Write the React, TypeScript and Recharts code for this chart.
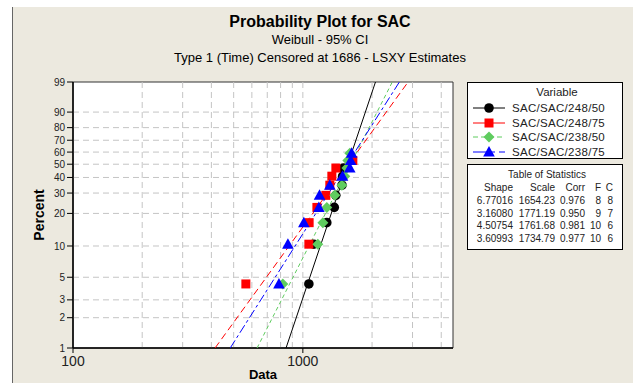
import React from "react";
import {
	ComposedChart,
	Scatter,
	XAxis,
	YAxis,
	ReferenceLine,
	ReferenceArea,
	CartesianGrid,
	Label,
} from "recharts";

// median-rank percent at which each failure is plotted
const percentRanks = [4.3, 10.4, 16.5, 22.6, 28.7, 34.8, 40.9, 47.0, 53.0, 59.1];

// failure times
const sac248_50 = [1062, 1116, 1271, 1370, 1391, 1480, 1490, 1500];
const sac248_75 = [565, 1062, 1065, 1151, 1259, 1310, 1337, 1392, 1650];
const sac238_50 = [818, 1162, 1222, 1271, 1377, 1478, 1522, 1554, 1569, 1601];
const sac238_75 = [787, 861, 1010, 1174, 1182, 1310, 1488, 1600, 1615, 1630];

// fitted lines: data value at 1% and at 99%
const fitLow = [845, 415, 632, 483];
const fitHigh = [2070, 2870, 2450, 2630];

const seriesNames = ["SAC/SAC/248/50", "SAC/SAC/248/75", "SAC/SAC/238/50", "SAC/SAC/238/75"];
const shapeStats = ["6.77016", "3.16080", "4.50754", "3.60993"];
const scaleStats = ["1654.23", "1771.19", "1761.68", "1734.79"];
const corrStats = ["0.976", "0.950", "0.981", "0.977"];
const failedStats = [8, 9, 10, 10];
const censoredStats = [8, 7, 6, 6];

const percentTicks = [1, 2, 3, 5, 10, 20, 30, 40, 50, 60, 70, 80, 90, 99];
const percentGrid = [2, 3, 5, 10, 20, 30, 40, 50, 60, 70, 80, 90];
const dataTicks = [100, 1000];
const dataGrid = [200, 300, 400, 500, 600, 700, 800, 900, 1000, 2000, 3000, 4000];

const colors = ["#000000", "#ff0000", "#5fcc5f", "#0000ff"];
const dashes = [undefined, "7 4", "4 3", "9 3 3 3"];
const legendDashes = [undefined, undefined, "5 3", "14 4 4 4"];
const FONT = "'Liberation Sans', Arial, sans-serif";

// weibull probability scale
const wb = (p: number) => Math.log(-Math.log(1 - p / 100));
const Y_MIN = wb(1);
const Y_MAX = wb(99);

const allSeries = [sac248_50, sac248_75, sac238_50, sac238_75];

const Marker = ({ kind, cx, cy }: { kind: number; cx: number; cy: number }) => {
	const c = colors[kind];
	if (kind === 0) return <circle cx={cx} cy={cy} r={4.8} fill={c} />;
	if (kind === 1) return <rect x={cx - 4.5} y={cy - 4.5} width={9} height={9} fill={c} />;
	if (kind === 2)
		return <polygon points={`${cx},${cy - 5.5} ${cx + 5.5},${cy} ${cx},${cy + 5.5} ${cx - 5.5},${cy}`} fill={c} />;
	return <polygon points={`${cx},${cy - 6} ${cx + 5.8},${cy + 4.5} ${cx - 5.8},${cy + 4.5}`} fill={c} />;
};

const LegendBox = () => (
	<div
		style={{
			position: "absolute",
			left: 467,
			top: 82,
			width: 154,
			height: 75,
			border: "1px solid #000",
			background: "#fff",
			fontFamily: FONT,
			fontSize: 11.5,
			color: "#222",
		}}
	>
		<div style={{ position: "absolute", left: 0, width: 126, top: 3, textAlign: "center" }}>
			<span style={{ position: "relative", left: 26 }}>Variable</span>
		</div>
		{seriesNames.map((name, i) => (
			<div key={name} style={{ position: "absolute", left: 4, top: 18 + i * 14.7, height: 14, display: "flex", alignItems: "center" }}>
				<svg width={34} height={12}>
					<line x1={1} x2={33} y1={6} y2={6} stroke={colors[i]} strokeWidth={1} strokeDasharray={legendDashes[i]} />
					<Marker kind={i} cx={17} cy={6} />
				</svg>
				<span style={{ marginLeft: 6, letterSpacing: 0.3 }}>{name}</span>
			</div>
		))}
	</div>
);

const statCols = [512, 554, 584, 600, 612];

const StatsBox = () => {
	const rows = [["Shape", "Scale", "Corr", "F", "C"]].concat(
		shapeStats.map((s, i) => [s, scaleStats[i], corrStats[i], String(failedStats[i]), String(censoredStats[i])])
	);
	return (
		<div
			style={{
				position: "absolute",
				left: 467,
				top: 164,
				width: 154,
				height: 84,
				border: "1px solid #000",
				background: "#fff",
				fontFamily: FONT,
				fontSize: 10,
				color: "#222",
			}}
		>
			<div style={{ position: "absolute", left: 0, width: 154, top: 4, textAlign: "center", paddingLeft: 2 }}>
				Table of Statistics
			</div>
			{rows.map((row, r) =>
				row.map((cell, c) => (
					<span
						key={`${r}-${c}`}
						style={{ position: "absolute", right: 621 - statCols[c], top: 17 + r * 12.8, whiteSpace: "nowrap" }}
					>
						{cell}
					</span>
				))
			)}
		</div>
	);
};

export default function App() {
	return (
		<div style={{ position: "absolute", left: 0, top: 0, width: 633, height: 383, background: "#fff", overflow: "hidden" }}>
			<div
				style={{
					position: "absolute",
					left: 12,
					top: 7,
					width: 621,
					height: 376,
					background: "#ece9df",
					borderLeft: "1px solid #666",
				}}
			/>
			<div style={{ position: "absolute", left: 0, width: 640, top: 12, textAlign: "center", fontFamily: FONT, color: "#000" }}>
				<div style={{ fontSize: 16, fontWeight: "bold", lineHeight: "19px" }}>Probability Plot for SAC</div>
				<div style={{ fontSize: 13, lineHeight: "18px" }}>Weibull - 95% CI</div>
				<div style={{ fontSize: 13, lineHeight: "18px" }}>Type 1 (Time) Censored at 1686 - LSXY Estimates</div>
			</div>
			<div style={{ position: "absolute", left: 0, top: 0 }}>
				<ComposedChart
					width={633}
					height={383}
					margin={{ top: 82, right: 180, left: 33, bottom: 0 }}
					style={{ fontFamily: FONT }}
				>
					<CartesianGrid fill="#fff" horizontal={false} vertical={false} />
					<XAxis
						dataKey="x"
						type="number"
						scale="log"
						domain={[100, 4500]}
						allowDataOverflow
						ticks={dataTicks}
						interval={0}
						height={35}
						tickSize={5}
						tickMargin={3}
						axisLine={{ stroke: "#000", strokeWidth: 1.5 }}
						tickLine={{ stroke: "#000" }}
						tick={{ fill: "#222", fontSize: 14 }}
					>
						<Label
							value="Data"
							position="insideBottom"
							offset={4}
							style={{ fontSize: 13, fontWeight: "bold", fill: "#000" }}
						/>
					</XAxis>
					<YAxis
						dataKey="y"
						type="number"
						domain={[Y_MIN, Y_MAX]}
						allowDataOverflow
						ticks={percentTicks.map(wb)}
						interval={0}
						tickFormatter={(v: number) => {
							const p = 100 * (1 - Math.exp(-Math.exp(v)));
							return String(Math.round(p));
						}}
						width={40}
						tickSize={6}
						tickMargin={2}
						axisLine={{ stroke: "#000", strokeWidth: 1.5 }}
						tickLine={{ stroke: "#000" }}
						tick={{ fill: "#222", fontSize: 10 }}
					>
						<Label
							content={(props: any) => {
								const vb = props.viewBox || { x: 33, y: 82, height: 266 };
								const cx = vb.x + 6;
								const cy = vb.y + vb.height / 2;
								return (
									<text
										x={cx}
										y={cy}
										transform={`rotate(-90 ${cx} ${cy})`}
										textAnchor="middle"
										dominantBaseline="central"
										style={{ fontSize: 14, fontWeight: "bold", fill: "#000" }}
									>
										Percent
									</text>
								);
							}}
						/>
					</YAxis>
					{dataGrid.map((v) => (
						<ReferenceLine key={`gx${v}`} x={v} stroke="#c4c4c4" strokeDasharray="6 4" />
					))}
					{percentGrid.map((p) => (
						<ReferenceLine key={`gy${p}`} y={wb(p)} stroke="#c4c4c4" strokeDasharray="6 4" />
					))}
					<ReferenceArea x1={100} x2={4500} y1={Y_MIN} y2={Y_MAX} fill="none" stroke="#333" strokeWidth={1} />
					{allSeries.map((_, i) => (
						<Scatter
							key={`fit${i}`}
							data={[
								{ x: fitLow[i], y: wb(1) },
								{ x: fitHigh[i], y: wb(99) },
							]}
							line={{ stroke: colors[i], strokeWidth: 1, strokeDasharray: dashes[i] }}
							shape={() => <g />}
							legendType="none"
							isAnimationActive={false}
						/>
					))}
					{allSeries.map((vals, i) => (
						<Scatter
							key={seriesNames[i]}
							name={seriesNames[i]}
							data={vals.map((x, k) => ({ x, y: wb(percentRanks[k]) }))}
							shape={(p: any) => <Marker kind={i} cx={p.cx} cy={p.cy} />}
							isAnimationActive={false}
						/>
					))}
				</ComposedChart>
			</div>
			<LegendBox />
			<StatsBox />
		</div>
	);
}
